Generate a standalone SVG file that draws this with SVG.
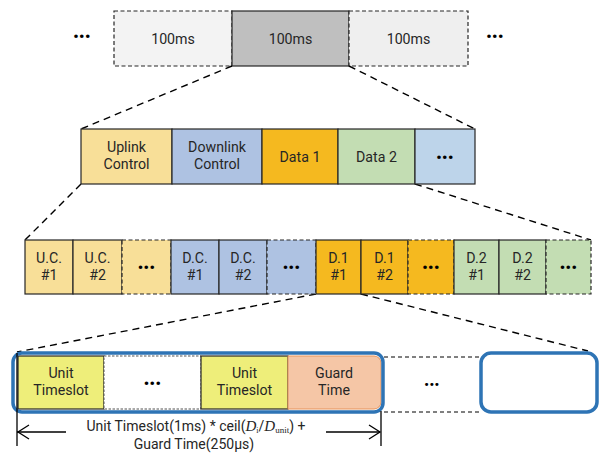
<svg xmlns="http://www.w3.org/2000/svg" width="600" height="454" viewBox="0 0 600 454">
  <defs>
    <style>
      text { font-family: Roboto, "Noto Sans", "DejaVu Sans", sans-serif; font-size: 14.2px; fill: #262626; text-anchor: middle; }
      .dots { font-size: 15px; font-weight: bold; letter-spacing: 0.5px; fill: #000; }
      .solid { stroke: #262626; stroke-width: 1.2; }
      .dash { stroke: #262626; stroke-width: 1.2; stroke-dasharray: 4 2.5; }
      .zoom { fill: none; stroke: #000; stroke-width: 1.4; stroke-dasharray: 7 5; }
      .uc { fill: #f8df98; }
      .dc { fill: #aec2e2; }
      .d1 { fill: #f5b91f; }
      .d2 { fill: #c3ddb3; }
      .more { fill: #bdd4ea; }
      .slot { fill: #eeee7a; }
      .blue { fill: none; stroke: #2e74b5; stroke-width: 3.5; }
      .dim { stroke: #000; stroke-width: 1.3; fill: none; }
      .formula { font-size: 14px; }
    </style>
  </defs>

  <!-- 100 ms frames -->
  <g id="frames">
    <text class="dots" x="82" y="42">•••</text>
    <g id="frame-prev">
      <rect x="114" y="11" width="118" height="55" fill="#f3f3f3" class="dash"/>
      <text x="173" y="44">100ms</text>
    </g>
    <g id="frame-now">
      <rect x="232" y="11" width="117" height="55" fill="#bfbfbf" class="solid"/>
      <text x="290.5" y="44">100ms</text>
    </g>
    <g id="frame-next">
      <rect x="349" y="11" width="119" height="55" fill="#efefef" class="dash"/>
      <text x="408.5" y="44">100ms</text>
    </g>
    <text class="dots" x="495" y="42">•••</text>
  </g>

  <!-- zoom connectors -->
  <g id="connectors">
    <line class="zoom" x1="232" y1="66" x2="81" y2="129"/>
    <line class="zoom" x1="349" y1="66" x2="475" y2="129"/>
    <line class="zoom" x1="81" y1="184" x2="25" y2="240"/>
    <line class="zoom" x1="415" y1="184" x2="591" y2="240"/>
    <line class="zoom" x1="316" y1="294" x2="17" y2="352"/>
    <line class="zoom" x1="361" y1="294" x2="588" y2="351"/>
    <line class="zoom" x1="384" y1="357" x2="481" y2="357" style="stroke-width:1;stroke-dasharray:4 3"/>
    <line class="zoom" x1="384" y1="412" x2="481" y2="412" style="stroke-width:1;stroke-dasharray:4 3"/>
  </g>

  <!-- channel blocks inside one frame -->
  <g id="channels">
    <g id="uplink-control">
      <rect x="81" y="129" width="91" height="55" class="uc solid"/>
      <text x="126.5" y="152">Uplink</text>
      <text x="126.5" y="169">Control</text>
    </g>
    <g id="downlink-control">
      <rect x="172" y="129" width="90" height="55" class="dc solid"/>
      <text x="217" y="152">Downlink</text>
      <text x="217" y="169">Control</text>
    </g>
    <g id="data-1">
      <rect x="262" y="129" width="76" height="55" class="d1 solid"/>
      <text x="300" y="162">Data 1</text>
    </g>
    <g id="data-2">
      <rect x="338" y="129" width="77" height="55" class="d2 solid"/>
      <text x="376.5" y="162">Data 2</text>
    </g>
    <g id="channel-more">
      <rect x="415" y="129" width="60" height="55" class="more solid"/>
      <text class="dots" x="445" y="163">•••</text>
    </g>
  </g>

  <!-- sub-blocks -->
  <g id="subblocks">
    <g id="uc1"><rect x="25" y="240" width="48" height="54" class="uc solid"/><text x="49" y="263">U.C.</text><text x="49" y="280">#1</text></g>
    <g id="uc2"><rect x="73" y="240" width="49" height="54" class="uc solid"/><text x="97.5" y="263">U.C.</text><text x="97.5" y="280">#2</text></g>
    <g id="uc-more"><rect x="122" y="240" width="49" height="54" class="uc dash"/><text class="dots" x="146.5" y="273">•••</text></g>
    <g id="dc1"><rect x="171" y="240" width="48" height="54" class="dc solid"/><text x="195" y="263">D.C.</text><text x="195" y="280">#1</text></g>
    <g id="dc2"><rect x="219" y="240" width="48" height="54" class="dc solid"/><text x="243" y="263">D.C.</text><text x="243" y="280">#2</text></g>
    <g id="dc-more"><rect x="267" y="240" width="49" height="54" class="dc dash"/><text class="dots" x="291.5" y="273">•••</text></g>
    <g id="d1-1"><rect x="316" y="240" width="45" height="54" class="d1 solid"/><text x="338.5" y="263">D.1</text><text x="338.5" y="280">#1</text></g>
    <g id="d1-2"><rect x="361" y="240" width="47" height="54" class="d1 solid"/><text x="384.5" y="263">D.1</text><text x="384.5" y="280">#2</text></g>
    <g id="d1-more"><rect x="408" y="240" width="46" height="54" class="d1 dash"/><text class="dots" x="431" y="273">•••</text></g>
    <g id="d2-1"><rect x="454" y="240" width="45" height="54" class="d2 solid"/><text x="476.5" y="263">D.2</text><text x="476.5" y="280">#1</text></g>
    <g id="d2-2"><rect x="499" y="240" width="47" height="54" class="d2 solid"/><text x="522.5" y="263">D.2</text><text x="522.5" y="280">#2</text></g>
    <g id="d2-more"><rect x="546" y="240" width="45" height="54" class="d2 dash"/><text class="dots" x="568.5" y="273">•••</text></g>
  </g>

  <!-- timeslots of one sub-block -->
  <g id="timeslots">
    <g id="slot-1">
      <rect x="18" y="356" width="86" height="53" class="slot solid"/>
      <text x="61" y="378">Unit</text>
      <text x="61" y="395">Timeslot</text>
    </g>
    <g id="slot-more">
      <rect x="104" y="356" width="97" height="53" fill="#fff" stroke="#555" stroke-width="1" stroke-dasharray="2.5 1.5"/>
      <text class="dots" x="152.5" y="389">•••</text>
    </g>
    <g id="slot-n">
      <rect x="201" y="356" width="87" height="53" class="slot solid"/>
      <text x="244.5" y="378">Unit</text>
      <text x="244.5" y="395">Timeslot</text>
    </g>
    <g id="guard-time">
      <path d="M288 356 H374 a7 7 0 0 1 7 7 V402 a7 7 0 0 1 -7 7 H288 Z" fill="#f5c6a6" stroke="#e6935a" stroke-width="1"/>
      <text x="334" y="378">Guard</text>
      <text x="334" y="395">Time</text>
    </g>
    <rect id="slot-group" x="13" y="353" width="370" height="59" rx="9" class="blue"/>
    <text id="group-gap" class="dots" x="432" y="389" style="font-size:13px">•••</text>
    <rect id="next-group" x="481" y="353" width="116" height="59" rx="10" class="blue"/>
  </g>

  <!-- duration dimension -->
  <g id="dimension">
    <line class="dim" x1="17" y1="353" x2="17" y2="446"/>
    <line class="dim" x1="381" y1="411" x2="381" y2="446"/>
    <line class="dim" x1="17" y1="432" x2="66" y2="432"/>
    <polyline class="dim" points="29,425 18,432 29,439"/>
    <line class="dim" x1="326" y1="432" x2="380" y2="432"/>
    <polyline class="dim" points="369,425 380,432 369,439"/>
    <text class="formula" x="196" y="431">Unit Timeslot(1ms) * ceil(<tspan font-family="Liberation Serif, serif" font-style="italic" font-size="15">D</tspan><tspan font-family="Liberation Serif, serif" font-size="8" dy="2">i</tspan><tspan dy="-2">/</tspan><tspan font-family="Liberation Serif, serif" font-style="italic" font-size="15">D</tspan><tspan font-family="Liberation Serif, serif" font-size="9" dy="2">unit</tspan><tspan dy="-2">) +</tspan></text>
    <text class="formula" x="194" y="449">Guard Time(250μs)</text>
  </g>
</svg>
